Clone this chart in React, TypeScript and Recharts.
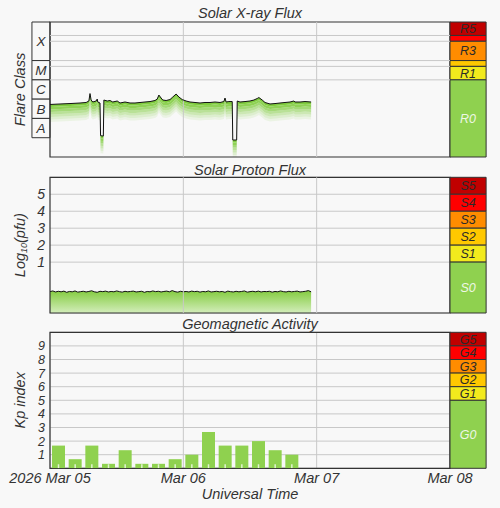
import React from 'react';
import {
  ComposedChart,
  Area,
  Line,
  Bar,
  XAxis,
  YAxis,
  CartesianGrid,
  ReferenceArea,
  ReferenceLine,
} from 'recharts';

const FONT = '"Liberation Sans", Arial, sans-serif';
const TEXT = '#333';
const BG = '#f8f8f8';
const GRID = '#c8c8c8';
const FRAME = '#333';
const GREEN = '#8fd14f';

// time axis: hours since 2026-03-05 00 UT
const DAY_TICKS = [0, 24, 48, 72];
const DAY_LABELS = ['2026 Mar 05', 'Mar 06', 'Mar 07', 'Mar 08'];
const DAY_LINES = [24, 48];

// GOES long channel x-ray flux (W/m2)
const XRAY_HOURS = [
  0, 1.8, 3.6, 5.4, 6.5, 7.0, 7.2, 7.4, 7.7, 8.3, 8.5, 8.6, 9.0, 9.1, 9.6, 9.7,
  10.3, 10.8, 11.3, 12.1, 12.6, 13.5, 14.4, 15.3, 16.2, 17.1, 18.0, 18.9, 19.3,
  19.6, 20.0, 20.3, 20.9, 21.6, 22.1, 22.7, 23.2, 23.8, 24.5, 25.2, 26.1, 27.0,
  27.9, 28.8, 29.7, 30.6, 31.3, 31.5, 31.7, 32.2, 32.8, 32.9, 33.6, 33.7, 34.2,
  35.1, 36.0, 36.7, 37.3, 37.6, 38.2, 38.7, 39.6, 40.5, 41.4, 42.3, 43.2, 43.9,
  44.1, 45.0, 45.9, 47.0,
];
const XRAY_FLUX = [
  5.3e-7, 5.6e-7, 5.9e-7, 6.3e-7, 6.7e-7, 8.0e-7, 1.95e-6, 9.0e-7, 7.1e-7, 8.0e-7,
  1.01e-6, 7.1e-7, 6.3e-7, 1.27e-8, 1.22e-8, 9.0e-7, 8.0e-7, 8.5e-7, 7.1e-7, 8.0e-7,
  6.3e-7, 7.1e-7, 6.3e-7, 6.3e-7, 6.7e-7, 7.1e-7, 7.5e-7, 8.5e-7, 1.01e-6, 1.63e-6,
  1.14e-6, 9.0e-7, 8.5e-7, 9.5e-7, 1.29e-6, 1.84e-6, 1.29e-6, 9.5e-7, 8.0e-7, 7.1e-7,
  6.7e-7, 6.3e-7, 6.7e-7, 6.7e-7, 7.1e-7, 6.7e-7, 7.5e-7, 1.14e-6, 7.1e-7, 7.5e-7,
  7.5e-7, 7.6e-9, 7.6e-9, 8.0e-7, 7.1e-7, 7.5e-7, 8.0e-7, 9.0e-7, 1.08e-6, 1.21e-6,
  9.0e-7, 6.7e-7, 5.6e-7, 5.9e-7, 6.3e-7, 6.7e-7, 7.1e-7, 8.0e-7, 7.1e-7, 7.1e-7,
  7.5e-7, 7.1e-7,
];

const FLARE_CLASSES = ['X', 'M', 'C', 'B', 'A'];
const FLARE_LOWER = [1e-4, 1e-5, 1e-6, 1e-7, 1e-8];
const FLARE_UPPER = [1e-2, 1e-4, 1e-5, 1e-6, 1e-7];
const XRAY_GRID = [1e-5, 5e-5, 1e-4, 1e-3, 2e-3];

// >=10 MeV proton flux, log10(pfu), every 30 min
const PROTON_STEP_H = 0.5;
const PROTON_LOG = [
  -0.74, -0.7, -0.76, -0.72, -0.75, -0.71, -0.78, -0.73, -0.75, -0.7, -0.77, -0.74,
  -0.72, -0.76, -0.73, -0.69, -0.75, -0.78, -0.72, -0.74, -0.71, -0.76, -0.73, -0.75,
  -0.7, -0.74, -0.77, -0.72, -0.75, -0.73, -0.71, -0.76, -0.74, -0.72, -0.78, -0.73,
  -0.75, -0.7, -0.74, -0.72, -0.76, -0.73, -0.71, -0.75, -0.68, -0.74, -0.77, -0.72,
  -0.75, -0.73, -0.76, -0.71, -0.74, -0.72, -0.77, -0.73, -0.75, -0.7, -0.76, -0.74,
  -0.72, -0.75, -0.73, -0.78, -0.71, -0.74, -0.76, -0.72, -0.75, -0.73, -0.7, -0.77,
  -0.74, -0.72, -0.75, -0.71, -0.76, -0.73, -0.74, -0.72, -0.77, -0.73, -0.75, -0.7,
  -0.74, -0.76, -0.72, -0.75, -0.73, -0.71, -0.76, -0.74, -0.72, -0.68, -0.75,
];
const PROTON_TICKS = [1, 2, 3, 4, 5];

// planetary Kp, 3-hour intervals (mid-times)
const KP_HOURS = [1.5, 4.5, 7.5, 10.5, 13.5, 16.5, 19.5, 22.5, 25.5, 28.5, 31.5, 34.5, 37.5, 40.5, 43.5];
const KP_VALUES = [1.67, 0.67, 1.67, 0.33, 1.33, 0.33, 0.33, 0.67, 1.0, 2.67, 1.67, 1.67, 2.0, 1.33, 1.0];
const KP_TICKS = [1, 2, 3, 4, 5, 6, 7, 8, 9];

// NOAA space weather scales (top to bottom)
const SCALE_COLORS = ['#c00000', '#ff0000', '#ff8c00', '#ffc800', '#f2ea1d', GREEN];
const R_LABELS = ['R5', '', 'R3', '', 'R1', 'R0'];
const R_LOWER = [2e-3, 1e-3, 1e-4, 5e-5, 1e-5, 1e-9];
const R_UPPER = [1e-2, 2e-3, 1e-3, 1e-4, 5e-5, 1e-5];
const S_LABELS = ['S5', 'S4', 'S3', 'S2', 'S1', 'S0'];
const S_LOWER = [5, 4, 3, 2, 1, -2];
const S_UPPER = [6, 5, 4, 3, 2, 1];
const G_LABELS = ['G5', 'G4', 'G3', 'G2', 'G1', 'G0'];
const G_LOWER = [9, 8, 7, 6, 5, 0];
const G_UPPER = [10, 9, 8, 7, 6, 5];

const SCALE_X = [72, 78.5];
const FLARE_X = [-3.25, 0];

const xrayData = XRAY_HOURS.map((t, i) => ({ t, flux: XRAY_FLUX[i] }));
const protonData = PROTON_LOG.map((v, i) => ({ t: i * PROTON_STEP_H, p: v }));
const kpData = KP_HOURS.map((t, i) => ({ t, kp: KP_VALUES[i] }));

// fading shade under the x-ray curve
const BAND_ALPHA = [1, 0.88, 0.7, 0.52, 0.36, 0.22, 0.1];
const BAND_DEC = 0.13;

const tickStyle = { fill: TEXT, fontSize: 14, fontStyle: 'italic', fontFamily: FONT };

function sideLabel(text: React.ReactNode) {
  return (props: any) => {
    const vb = props.viewBox || {};
    const cx = (vb.x ?? 0) + 20;
    const cy = (vb.y ?? 0) + (vb.height ?? 0) / 2;
    return (
      <text
        x={cx}
        y={cy}
        transform={`rotate(-90 ${cx} ${cy})`}
        textAnchor="middle"
        dominantBaseline="central"
        fill={TEXT}
        fontSize={14.5}
        fontStyle="italic"
        fontFamily={FONT}
      >
        {text}
      </text>
    );
  };
}

function scaleAreas(labels: string[], lower: number[], upper: number[]) {
  return labels.map((lab, i) => (
    <ReferenceArea
      key={'s' + i}
      x1={SCALE_X[0]}
      x2={SCALE_X[1]}
      y1={lower[i]}
      y2={upper[i]}
      fill={SCALE_COLORS[i]}
      fillOpacity={1}
      stroke={FRAME}
      strokeWidth={1}
      ifOverflow="visible"
      label={{
        value: lab,
        position: 'center',
        fill: i === labels.length - 1 ? '#eef7e6' : '#2a2a2a',
        fontSize: 12.5,
        fontStyle: 'italic',
        fontFamily: FONT,
      }}
    />
  ));
}

function dayLines() {
  return DAY_LINES.map((d) => <ReferenceLine key={'d' + d} x={d} stroke={GRID} strokeWidth={1} />);
}

function hiddenX() {
  return (
    <XAxis
      type="number"
      dataKey="t"
      domain={[0, 72]}
      ticks={DAY_TICKS}
      allowDataOverflow
      height={0}
      tick={false}
      tickLine={false}
      axisLine={false}
    />
  );
}

const KpBar = (p: any) => {
  const cx = p.x + p.width / 2;
  const bottom = p.y + p.height;
  return (
    <g>
      <rect x={p.x} y={p.y} width={p.width} height={p.height} fill={GREEN} />
      <line x1={cx} x2={cx} y1={bottom} y2={bottom - Math.min(4, p.height)} stroke="#fff" strokeOpacity={0.75} strokeWidth={1.5} />
    </g>
  );
};

const titleStyle: React.CSSProperties = {
  position: 'absolute',
  left: 0,
  width: 500,
  textAlign: 'center',
  fontFamily: FONT,
  fontStyle: 'italic',
  fontSize: 14.5,
  lineHeight: '14.5px',
  color: TEXT,
};

export default function App() {
  return (
    <div style={{ position: 'fixed', left: 0, top: 0, width: 500, height: 508, background: BG, overflow: 'hidden' }}>
      <div style={{ ...titleStyle, top: 6 }}>Solar X-ray Flux</div>
      <div style={{ ...titleStyle, top: 163 }}>Solar Proton Flux</div>
      <div style={{ ...titleStyle, top: 317 }}>Geomagnetic Activity</div>

      <div style={{ position: 'absolute', left: 0, top: 0 }}>
        <ComposedChart width={500} height={160} data={xrayData} margin={{ top: 22, right: 50, bottom: 3, left: 0 }}>
          {hiddenX()}
          <YAxis
            type="number"
            scale="log"
            domain={[1e-9, 1e-2]}
            ticks={XRAY_GRID}
            allowDataOverflow
            width={50}
            tick={false}
            tickLine={false}
            axisLine={false}
            label={sideLabel('Flare Class')}
          />
          {dayLines()}
          {XRAY_GRID.map((g) => (
            <ReferenceLine key={'g' + g} y={g} stroke={GRID} strokeWidth={1} />
          ))}
          {BAND_ALPHA.map((a, k) => (
            <Area
              key={'b' + k}
              type="linear"
              dataKey={(d: any) => [d.flux * Math.pow(10, -(k + 1) * BAND_DEC), d.flux * Math.pow(10, -k * BAND_DEC)]}
              stroke="none"
              fill="#7fcc3e"
              fillOpacity={a}
              isAnimationActive={false}
            />
          ))}
          <Line type="linear" dataKey="flux" stroke="#111" strokeWidth={1} dot={false} isAnimationActive={false} />
          {FLARE_CLASSES.map((c, i) => (
            <ReferenceArea
              key={'f' + i}
              x1={FLARE_X[0]}
              x2={FLARE_X[1]}
              y1={FLARE_LOWER[i]}
              y2={FLARE_UPPER[i]}
              fill={BG}
              fillOpacity={1}
              stroke={FRAME}
              ifOverflow="visible"
              label={{ value: c, position: 'center', fill: TEXT, fontSize: 13.5, fontStyle: 'italic', fontFamily: FONT }}
            />
          ))}
          <ReferenceArea x1={0} x2={72} y1={1e-9} y2={1e-2} fill="none" stroke={FRAME} strokeWidth={1.2} ifOverflow="visible" />
          {scaleAreas(R_LABELS, R_LOWER, R_UPPER)}
        </ComposedChart>
      </div>

      <div style={{ position: 'absolute', left: 0, top: 160 }}>
        <ComposedChart width={500} height={160} data={protonData} margin={{ top: 17.3, right: 50, bottom: 7, left: 0 }}>
          <defs>
            <linearGradient id="protonFill" x1="0" y1="0" x2="0" y2="1">
              <stop offset="0%" stopColor="#84cc40" />
              <stop offset="100%" stopColor="#d3edbb" />
            </linearGradient>
          </defs>
          <CartesianGrid stroke={GRID} vertical={false} />
          {hiddenX()}
          <YAxis
            type="number"
            domain={[-2, 6]}
            ticks={PROTON_TICKS}
            interval={0}
            allowDataOverflow
            width={50}
            tick={tickStyle}
            tickLine={false}
            axisLine={false}
            tickSize={4}
            tickMargin={1}
            label={sideLabel(
              <>
                Log
                <tspan fontSize={9} dy={4}>
                  10
                </tspan>
                <tspan dy={-4}>(pfu)</tspan>
              </>
            )}
          />
          {dayLines()}
          <Area
            type="linear"
            dataKey="p"
            baseValue="dataMin"
            stroke="#111"
            strokeWidth={1}
            fill="url(#protonFill)"
            fillOpacity={1}
            isAnimationActive={false}
          />
          <ReferenceArea x1={0} x2={72} y1={-2} y2={6} fill="none" stroke={FRAME} strokeWidth={1.2} ifOverflow="visible" />
          {scaleAreas(S_LABELS, S_LOWER, S_UPPER)}
        </ComposedChart>
      </div>

      <div style={{ position: 'absolute', left: 0, top: 320 }}>
        <ComposedChart width={500} height={188} data={kpData} margin={{ top: 12.3, right: 50, bottom: 0, left: 0 }}>
          <CartesianGrid stroke={GRID} />
          <XAxis
            type="number"
            dataKey="t"
            domain={[0, 72]}
            ticks={DAY_TICKS}
            interval={0}
            allowDataOverflow
            height={39.7}
            tickLine={false}
            axisLine={false}
            tickSize={4}
            tickMargin={0.5}
            tick={{ ...tickStyle, fontSize: 14.5 }}
            tickFormatter={(v: number) => DAY_LABELS[DAY_TICKS.indexOf(v)]}
            label={{
              value: 'Universal Time',
              position: 'insideBottom',
              offset: 9,
              fill: TEXT,
              fontSize: 14.5,
              fontStyle: 'italic',
              fontFamily: FONT,
            }}
          />
          <YAxis
            type="number"
            domain={[0, 10]}
            ticks={KP_TICKS}
            interval={0}
            allowDataOverflow
            width={50}
            tick={{ ...tickStyle, fontSize: 12.5 }}
            tickLine={false}
            axisLine={false}
            tickSize={4}
            tickMargin={1}
            label={sideLabel('Kp index')}
          />
          <Bar dataKey="kp" barSize={13} fill={GREEN} shape={KpBar} isAnimationActive={false} />
          <ReferenceArea x1={0} x2={72} y1={0} y2={10} fill="none" stroke={FRAME} strokeWidth={1.2} ifOverflow="visible" />
          {scaleAreas(G_LABELS, G_LOWER, G_UPPER)}
        </ComposedChart>
      </div>
    </div>
  );
}
